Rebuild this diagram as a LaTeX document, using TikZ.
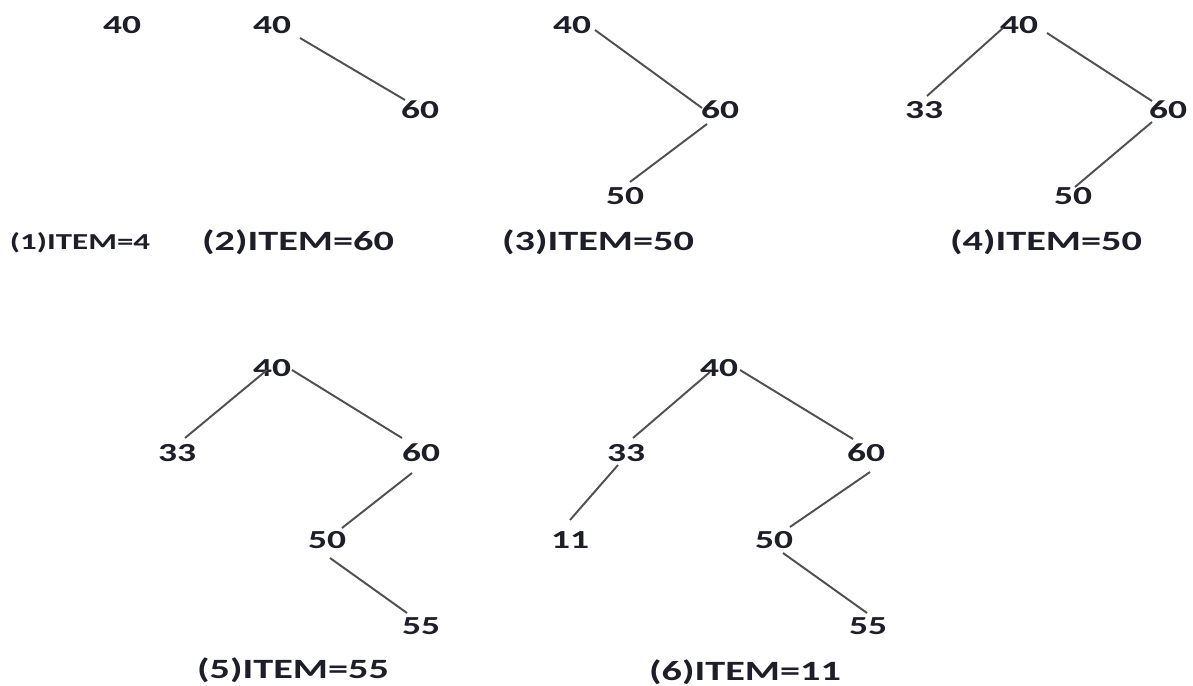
\documentclass[tikz,border=0pt]{standalone}
\usepackage{fontspec}
\setmainfont{Carlito}[FakeStretch=1.44]
\begin{document}
\begin{tikzpicture}[x=0.02cm,y=-0.02cm,
  key/.style={inner sep=0pt,text=txt,font=\fontsize{14.8}{16}\selectfont\bfseries},
  itemlabel/.style={inner sep=0pt,text=txt,font=\fontsize{15.9}{17}\selectfont\bfseries},
  smalllabel/.style={inner sep=0pt,text=txt,font=\fontsize{13}{15}\selectfont\bfseries},
  link/.style={draw=edgecol,line width=1.1pt}]
\definecolor{txt}{HTML}{1E1E28}
\definecolor{edgecol}{HTML}{505050}
\useasboundingbox (0,0) rectangle (1193,686);
\fill[white] (0,0) rectangle (1193,686);

% (1) first insertion
\node[key] (t1a) at (122,25) {40};
\node[smalllabel] (c1) at (80,243) {(1)ITEM=4};

% (2)
\node[key] (t2a) at (272,25) {40};
\node[key] (t2b) at (420,110) {60};
\draw[link] ([shift={(28,13)}]t2a.center) -- ([shift={(-15,-10)}]t2b.center);
\node[itemlabel] (c2) at (298,242) {(2)ITEM=60};

% (3)
\node[key] (t3a) at (572,25) {40};
\node[key] (t3b) at (720,110) {60};
\node[key] (t3c) at (625,196) {50};
\draw[link] ([shift={(23,5)}]t3a.center) -- ([shift={(-18,-2)}]t3b.center);
\draw[link] ([shift={(-13,14)}]t3b.center) -- ([shift={(5,-14)}]t3c.center);
\node[itemlabel] (c3) at (598,242) {(3)ITEM=50};

% (4)
\node[key] (t4a) at (1019,25) {40};
\node[key] (t4b) at (924,110) {33};
\node[key] (t4c) at (1168,110) {60};
\node[key] (t4d) at (1073,196) {50};
\draw[link] ([shift={(-16,3)}]t4a.center) -- ([shift={(3,-14)}]t4b.center);
\draw[link] ([shift={(28,8)}]t4a.center) -- ([shift={(-16,-9)}]t4c.center);
\draw[link] ([shift={(-16,12)}]t4c.center) -- ([shift={(2,-9)}]t4d.center);
\node[itemlabel] (c4) at (1046,242) {(4)ITEM=50};

% (5)
\node[key] (t5a) at (272,368) {40};
\node[key] (t5b) at (177,453) {33};
\node[key] (t5c) at (421,453) {60};
\node[key] (t5d) at (327,540) {50};
\node[key] (t5e) at (421,626) {55};
\draw[link] ([shift={(-5,2)}]t5a.center) -- ([shift={(8,-15)}]t5b.center);
\draw[link] ([shift={(20,2)}]t5a.center) -- ([shift={(-19,-15)}]t5c.center);
\draw[link] ([shift={(-9,20)}]t5c.center) -- ([shift={(15,-12)}]t5d.center);
\draw[link] ([shift={(3,18)}]t5d.center) -- ([shift={(-14,-13)}]t5e.center);
\node[itemlabel] (c5) at (293,670) {(5)ITEM=55};

% (6)
\node[key] (t6a) at (719,368) {40};
\node[key] (t6b) at (626,453) {33};
\node[key] (t6c) at (866,453) {60};
\node[key] (t6d) at (570,540) {11};
\node[key] (t6e) at (774,540) {50};
\node[key] (t6f) at (868,626) {55};
\draw[link] ([shift={(-9,4)}]t6a.center) -- ([shift={(7,-15)}]t6b.center);
\draw[link] ([shift={(21,2)}]t6a.center) -- ([shift={(-13,-14)}]t6c.center);
\draw[link] ([shift={(-8,12)}]t6b.center) -- ([shift={(0,-20)}]t6d.center);
\draw[link] ([shift={(4,19)}]t6c.center) -- ([shift={(16,-13)}]t6e.center);
\draw[link] ([shift={(9,13)}]t6e.center) -- ([shift={(-1,-13)}]t6f.center);
\node[itemlabel] (c6) at (745,672) {(6)ITEM=11};
\end{tikzpicture}
\end{document}
